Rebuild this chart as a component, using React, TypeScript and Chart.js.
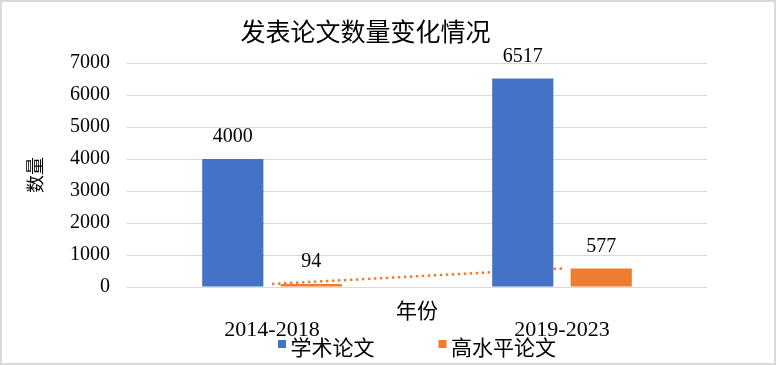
import React, { useEffect, useRef } from 'react';
import { Chart, registerables } from 'chart.js';

Chart.register(...registerables);

const chartTitle = '发表论文数量变化情况';
const xAxisTitle = '年份';
const yAxisTitle = '数量';
const categories = ['2014-2018', '2019-2023'];
const seriesNames = ['学术论文', '高水平论文'];
const academicPapers = [4000, 6517];
const highLevelPapers = [94, 577];
const yMin = 0;
const yMax = 7000;
const yStep = 1000;

const BLUE = '#4472C4';
const ORANGE = '#ED7D31';
const SERIF = '"Liberation Serif", "Noto Sans CJK SC", serif';
const CJK = '"Noto Sans CJK SC", sans-serif';

const valueLabels = {
  id: 'valueLabels',
  afterDatasetsDraw(chart: any) {
    const { ctx } = chart;
    ctx.save();
    ctx.fillStyle = '#000';
    ctx.font = `20px ${SERIF}`;
    ctx.textAlign = 'center';
    ctx.textBaseline = 'middle';
    [0, 1].forEach((di) => {
      const meta = chart.getDatasetMeta(di);
      const ds = chart.data.datasets[di];
      meta.data.forEach((bar: any, i: number) => {
        ctx.fillText(String(ds.data[i]), bar.x, bar.y - 22);
      });
    });
    ctx.restore();
  },
};

const extras = {
  id: 'extras',
  afterDraw(chart: any) {
    const { ctx, chartArea } = chart;
    const cx = (chartArea.left + chartArea.right) / 2;
    ctx.save();
    ctx.fillStyle = '#000';
    ctx.font = `21px ${CJK}`;
    ctx.textAlign = 'center';
    ctx.textBaseline = 'middle';
    ctx.fillText(xAxisTitle, cx, chartArea.bottom + 23);

    // legend
    ctx.font = `21px ${CJK}`;
    const w1 = ctx.measureText(seriesNames[0]).width;
    const w2 = ctx.measureText(seriesNames[1]).width;
    const box = 8;
    const gap = 4.5;
    const itemGap = 64;
    const total = box + gap + w1 + itemGap + box + gap + w2;
    let x = cx - total / 2;
    const ly = chartArea.bottom + 60;
    ctx.textAlign = 'left';
    ctx.fillStyle = BLUE;
    ctx.fillRect(x, ly - 7, box, box);
    x += box + gap;
    ctx.fillStyle = '#000';
    ctx.fillText(seriesNames[0], x, ly);
    x += w1 + itemGap;
    ctx.fillStyle = ORANGE;
    ctx.fillRect(x, ly - 7, box, box);
    x += box + gap;
    ctx.fillStyle = '#000';
    ctx.fillText(seriesNames[1], x, ly);

    // outer border
    ctx.strokeStyle = '#d9d9d9';
    ctx.lineWidth = 2;
    ctx.strokeRect(1, 1, chart.width - 2, chart.height - 2);
    ctx.restore();
  },
};

export default function App() {
  const ref = useRef<HTMLCanvasElement>(null);

  useEffect(() => {
    document.body.style.margin = '0';
    const canvas = ref.current;
    if (!canvas) return;
    const chart = new Chart(canvas, {
      type: 'bar',
      data: {
        labels: categories,
        datasets: [
          {
            label: seriesNames[0],
            data: academicPapers,
            backgroundColor: BLUE,
            categoryPercentage: 0.541,
            barPercentage: 0.78,
          },
          {
            label: seriesNames[1],
            data: highLevelPapers,
            backgroundColor: ORANGE,
            categoryPercentage: 0.541,
            barPercentage: 0.78,
          },
          {
            type: 'line',
            label: 'trend',
            data: highLevelPapers,
            borderColor: ORANGE,
            borderWidth: 2.5,
            borderDash: [2.5, 3.5],
            pointRadius: 0,
            fill: false,
            tension: 0,
          } as any,
        ],
      },
      options: {
        responsive: false,
        animation: false,
        layout: { padding: { left: 24, right: 69, top: 0, bottom: 0 } },
        plugins: {
          legend: { display: false },
          tooltip: { enabled: false },
          title: {
            display: true,
            text: chartTitle,
            color: '#000',
            font: { family: CJK, size: 25, weight: 'normal' },
            padding: { top: 16, bottom: 17 },
          },
        },
        scales: {
          x: {
            grid: { display: false },
            border: { display: false },
            ticks: { color: '#000', padding: 22, font: { family: SERIF, size: 22 } },
            afterFit: (s: any) => {
              s.height = 78;
            },
          },
          y: {
            min: yMin,
            max: yMax,
            grid: { color: '#d9d9d9', lineWidth: 1, drawTicks: false },
            border: { display: false },
            ticks: {
              stepSize: yStep,
              color: '#000',
              padding: 17,
              font: { family: SERIF, size: 20 },
              callback: (v: any) => String(v),
            },
            title: {
              display: true,
              text: yAxisTitle,
              color: '#000',
              font: { family: CJK, size: 18 },
              padding: { top: 0, bottom: 0 },
            },
            afterFit: (s: any) => {
              s.width = 103;
            },
          },
        },
      },
      plugins: [valueLabels, extras],
    });
    return () => chart.destroy();
  }, []);

  return <canvas ref={ref} width={776} height={365} style={{ display: 'block' }} />;
}
